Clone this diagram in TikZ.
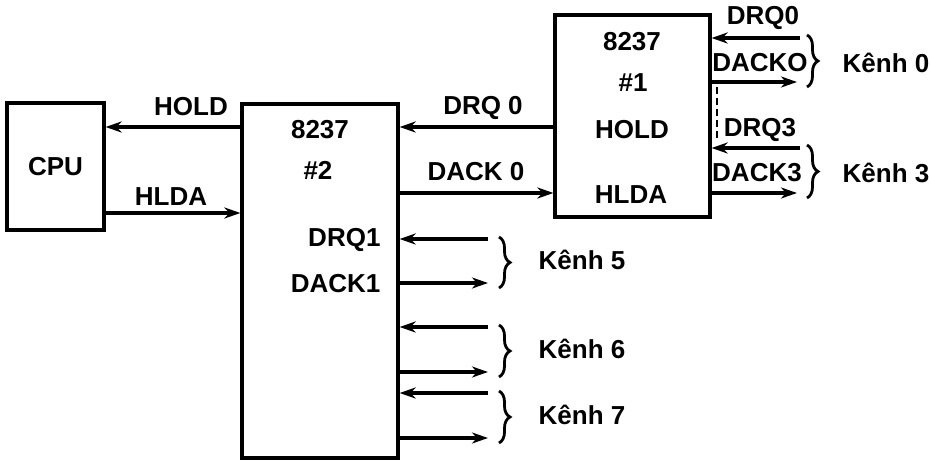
\documentclass[tikz,border=0pt]{standalone}
\usepackage{fontspec}
\setmainfont{Liberation Sans}
\usetikzlibrary{arrows.meta,decorations.pathreplacing}

\begin{document}
\begin{tikzpicture}[x=1pt,y=-1pt,font=\fontsize{26}{30}\selectfont\bfseries]
  \path[use as bounding box] (0,0) rectangle (930,461);
  \fill[white] (0,0) rectangle (930,461);

  \tikzset{box/.style n args={2}{draw,line width=3.2pt,minimum width=#1,minimum height=#2,inner sep=0pt},
    arrow/.style={-{Stealth[length=16pt,width=11pt,inset=5pt]},line width=3.2pt},
    kenh/.style={decorate,decoration={brace,amplitude=11pt},line width=2.8pt}}

  \node[box={97pt}{127pt}] (cpu) at (55.5,166.5) {CPU};
  \node[box={156pt}{354pt}] (dma2) at (320,281) {};
  \node[box={155pt}{202pt}] (dma1) at (632.5,116) {};

  \node (chip2) at (320,130) {8237};
  \node (num2) at (318,170) {\#2};
  \node (chip1) at (632,42) {8237};
  \node (num1) at (633,83) {\#1};
  \node (hold1) at (632,130) {HOLD};
  \node (hlda1) at (631,195) {HLDA};

  \draw[arrow] (dma2.west |- 0,127) -- (cpu.east |- 0,127);
  \draw[arrow] (cpu.east |- 0,213) -- (dma2.west |- 0,213);
  \draw[arrow] (dma1.west |- 0,127) -- (dma2.east |- 0,127);
  \draw[arrow] (dma2.east |- 0,193) -- (dma1.west |- 0,193);
  \node (hold) at (191,107) {HOLD};
  \node (hlda) at (171,197) {HLDA};
  \node (drq0in) at (483,108) {DRQ 0};
  \node (dack0out) at (476,172) {DACK 0};

  \coordinate (drq0) at (800,38);
  \coordinate (dack0) at (797,82);
  \coordinate (drq3) at (800,148);
  \coordinate (dack3) at (797,193);
  \draw[arrow] (drq0) -- (dma1.east |- drq0);
  \draw[arrow] (dma1.east |- dack0) -- (dack0);
  \draw[arrow] (drq3) -- (dma1.east |- drq3);
  \draw[arrow] (dma1.east |- dack3) -- (dack3);
  \draw[dash pattern=on 7pt off 4pt,line width=2.4pt] (717,87) -- (717,141);
  \node (ldrq0) at (763,18) {DRQ0};
  \node (ldack0) at (760,63) {DACKO};
  \node (ldrq3) at (760,130) {DRQ3};
  \node (ldack3) at (757,173) {DACK3};
  \draw[kenh] (807,35) -- (807,87);
  \draw[kenh] (807,145) -- (807,198);
  \node (k0) at (886,63) {Kênh 0};
  \node (k3) at (886,173) {Kênh 3};

  \foreach \r/\a/\n in {239/283/5, 327/372/6, 393/438/7}{
    \coordinate (drq\n) at (488,\r);
    \coordinate (dack\n) at (488,\a);
    \draw[arrow] (drq\n) -- (dma2.east |- drq\n);
    \draw[arrow] (dma2.east |- dack\n) -- (dack\n);
    \draw[kenh] (499,\r-2) -- (499,\a+5);
    \node (k\n) at (582,\r/2+\a/2-1) {Kênh \n};
  }
  \node[anchor=east] (ldrq1) at (384,240) {DRQ1};
  \node[anchor=east] (ldack1) at (384,284) {DACK1};
\end{tikzpicture}
\end{document}
